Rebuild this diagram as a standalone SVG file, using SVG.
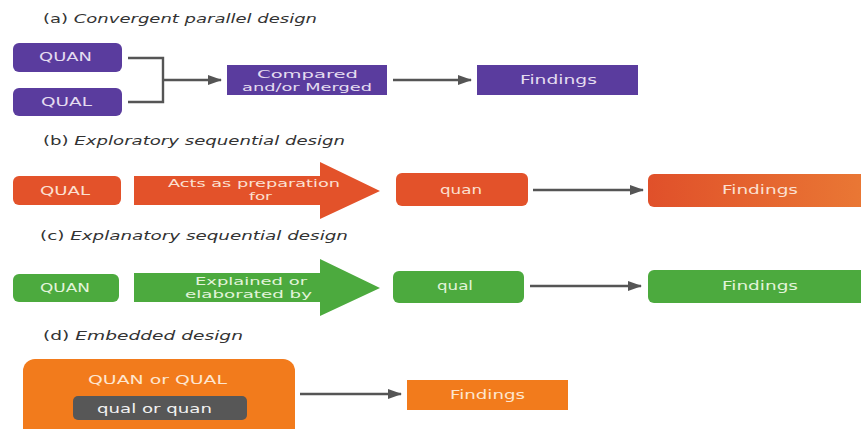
<svg xmlns="http://www.w3.org/2000/svg" width="861" height="429" viewBox="0 0 861 429">
  <defs>
    <marker id="head" markerWidth="14" markerHeight="10" refX="13" refY="5" orient="auto" markerUnits="userSpaceOnUse">
      <path d="M0,0 L14,5 L0,10 Z" fill="#555"/>
    </marker>
    <linearGradient id="fadeRed" x1="0" y1="0" x2="1" y2="0">
      <stop offset="0" stop-color="#e0502a"/>
      <stop offset="1" stop-color="#ea7a35"/>
    </linearGradient>
    <style>
      .title { font-family: "DejaVu Sans", "Liberation Sans", sans-serif; font-size: 12px; fill: #333; }
      .title tspan.it { font-style: italic; }
      .lbl { font-family: "DejaVu Sans", "Liberation Sans", sans-serif; font-size: 11.5px; }
      .small { font-size: 10px; }
      .purple { fill: #5a3c9e; }
      .red { fill: #e3522a; }
      .green { fill: #4caa3e; }
      .orange { fill: #f27b1c; }
      .gray { fill: #575757; }
      .tp { fill: #e4dcf0; }
      .tr { fill: #fbe0d2; }
      .tg { fill: #e2f4da; }
      .to { fill: #fde6d0; }
      .tw { fill: #f2f2f2; }
      .conn { stroke: #555; stroke-width: 2.4; fill: none; }
    </style>
  </defs>
  <rect width="861" height="429" fill="#ffffff"/>

  <!-- section titles -->
  <text class="title" x="43" y="23" textLength="274" lengthAdjust="spacingAndGlyphs">(a) <tspan class="it">Convergent parallel design</tspan></text>
  <text class="title" x="43" y="145" textLength="302" lengthAdjust="spacingAndGlyphs">(b) <tspan class="it">Exploratory sequential design</tspan></text>
  <text class="title" x="40" y="240" textLength="308" lengthAdjust="spacingAndGlyphs">(c) <tspan class="it">Explanatory sequential design</tspan></text>
  <text class="title" x="43" y="340" textLength="200" lengthAdjust="spacingAndGlyphs">(d) <tspan class="it">Embedded design</tspan></text>

  <!-- connectors -->
  <g id="connectors">
    <polyline class="conn" points="128,58 163,58 163,102 128,102"/>
    <line class="conn" x1="163" y1="80" x2="221" y2="80" marker-end="url(#head)"/>
    <line class="conn" x1="393" y1="80" x2="471" y2="80" marker-end="url(#head)"/>
    <line class="conn" x1="533" y1="190" x2="643" y2="190" marker-end="url(#head)"/>
    <line class="conn" x1="530" y1="286" x2="641" y2="286" marker-end="url(#head)"/>
    <line class="conn" x1="300" y1="394" x2="401" y2="394" marker-end="url(#head)"/>
  </g>

  <!-- (a) convergent parallel -->
  <g id="a-quan">
    <rect class="purple" x="13" y="43" width="109" height="29" rx="6"/>
    <text class="lbl tp" x="39" y="61" textLength="53" lengthAdjust="spacingAndGlyphs">QUAN</text>
  </g>
  <g id="a-qual">
    <rect class="purple" x="13" y="88" width="109" height="28" rx="6"/>
    <text class="lbl tp" x="41" y="106" textLength="51" lengthAdjust="spacingAndGlyphs">QUAL</text>
  </g>
  <g id="a-merge">
    <rect class="purple" x="227" y="65" width="160" height="30"/>
    <text class="lbl small tp" x="257" y="78" textLength="101" lengthAdjust="spacingAndGlyphs">Compared</text>
    <text class="lbl small tp" x="242" y="91" textLength="130" lengthAdjust="spacingAndGlyphs">and/or Merged</text>
  </g>
  <g id="a-findings">
    <rect class="purple" x="477" y="65" width="161" height="30"/>
    <text class="lbl tp" x="520" y="84" textLength="77" lengthAdjust="spacingAndGlyphs">Findings</text>
  </g>

  <!-- (b) exploratory sequential -->
  <g id="b-qual">
    <rect class="red" x="13" y="176" width="108" height="29" rx="6"/>
    <text class="lbl tr" x="40" y="195" textLength="50" lengthAdjust="spacingAndGlyphs">QUAL</text>
  </g>
  <g id="b-arrow">
    <polygon class="red" points="134,176 320,176 320,162 380,191 320,219 320,205 134,205"/>
    <text class="lbl small tr" x="168" y="187" textLength="172" lengthAdjust="spacingAndGlyphs">Acts as preparation</text>
    <text class="lbl small tr" x="249" y="200" textLength="23" lengthAdjust="spacingAndGlyphs">for</text>
  </g>
  <g id="b-quan">
    <rect class="red" x="396" y="173" width="132" height="33" rx="6"/>
    <text class="lbl tr" x="440" y="194" textLength="42" lengthAdjust="spacingAndGlyphs">quan</text>
  </g>
  <g id="b-findings">
    <rect x="648" y="174" width="230" height="33" rx="6" fill="url(#fadeRed)"/>
    <text class="lbl tr" x="722" y="194" textLength="76" lengthAdjust="spacingAndGlyphs">Findings</text>
  </g>

  <!-- (c) explanatory sequential -->
  <g id="c-quan">
    <rect class="green" x="13" y="274" width="106" height="28" rx="6"/>
    <text class="lbl tg" x="40" y="292" textLength="50" lengthAdjust="spacingAndGlyphs">QUAN</text>
  </g>
  <g id="c-arrow">
    <polygon class="green" points="134,273 320,273 320,259 380,288 320,316 320,302 134,302"/>
    <text class="lbl small tg" x="195" y="285" textLength="112" lengthAdjust="spacingAndGlyphs">Explained or</text>
    <text class="lbl small tg" x="185" y="298" textLength="127" lengthAdjust="spacingAndGlyphs">elaborated by</text>
  </g>
  <g id="c-qual">
    <rect class="green" x="393" y="271" width="131" height="32" rx="6"/>
    <text class="lbl tg" x="437" y="290" textLength="36" lengthAdjust="spacingAndGlyphs">qual</text>
  </g>
  <g id="c-findings">
    <rect class="green" x="648" y="270" width="230" height="33" rx="6"/>
    <text class="lbl tg" x="722" y="290" textLength="76" lengthAdjust="spacingAndGlyphs">Findings</text>
  </g>

  <!-- (d) embedded -->
  <g id="d-outer">
    <rect class="orange" x="23" y="359" width="272" height="90" rx="12"/>
    <text class="lbl to" x="88" y="384" textLength="139" lengthAdjust="spacingAndGlyphs">QUAN or QUAL</text>
  </g>
  <g id="d-inner">
    <rect class="gray" x="73" y="396" width="174" height="24" rx="5"/>
    <text class="lbl tw" x="97" y="413" textLength="115" lengthAdjust="spacingAndGlyphs">qual or quan</text>
  </g>
  <g id="d-findings">
    <rect class="orange" x="407" y="380" width="161" height="30"/>
    <text class="lbl to" x="450" y="399" textLength="75" lengthAdjust="spacingAndGlyphs">Findings</text>
  </g>
</svg>
